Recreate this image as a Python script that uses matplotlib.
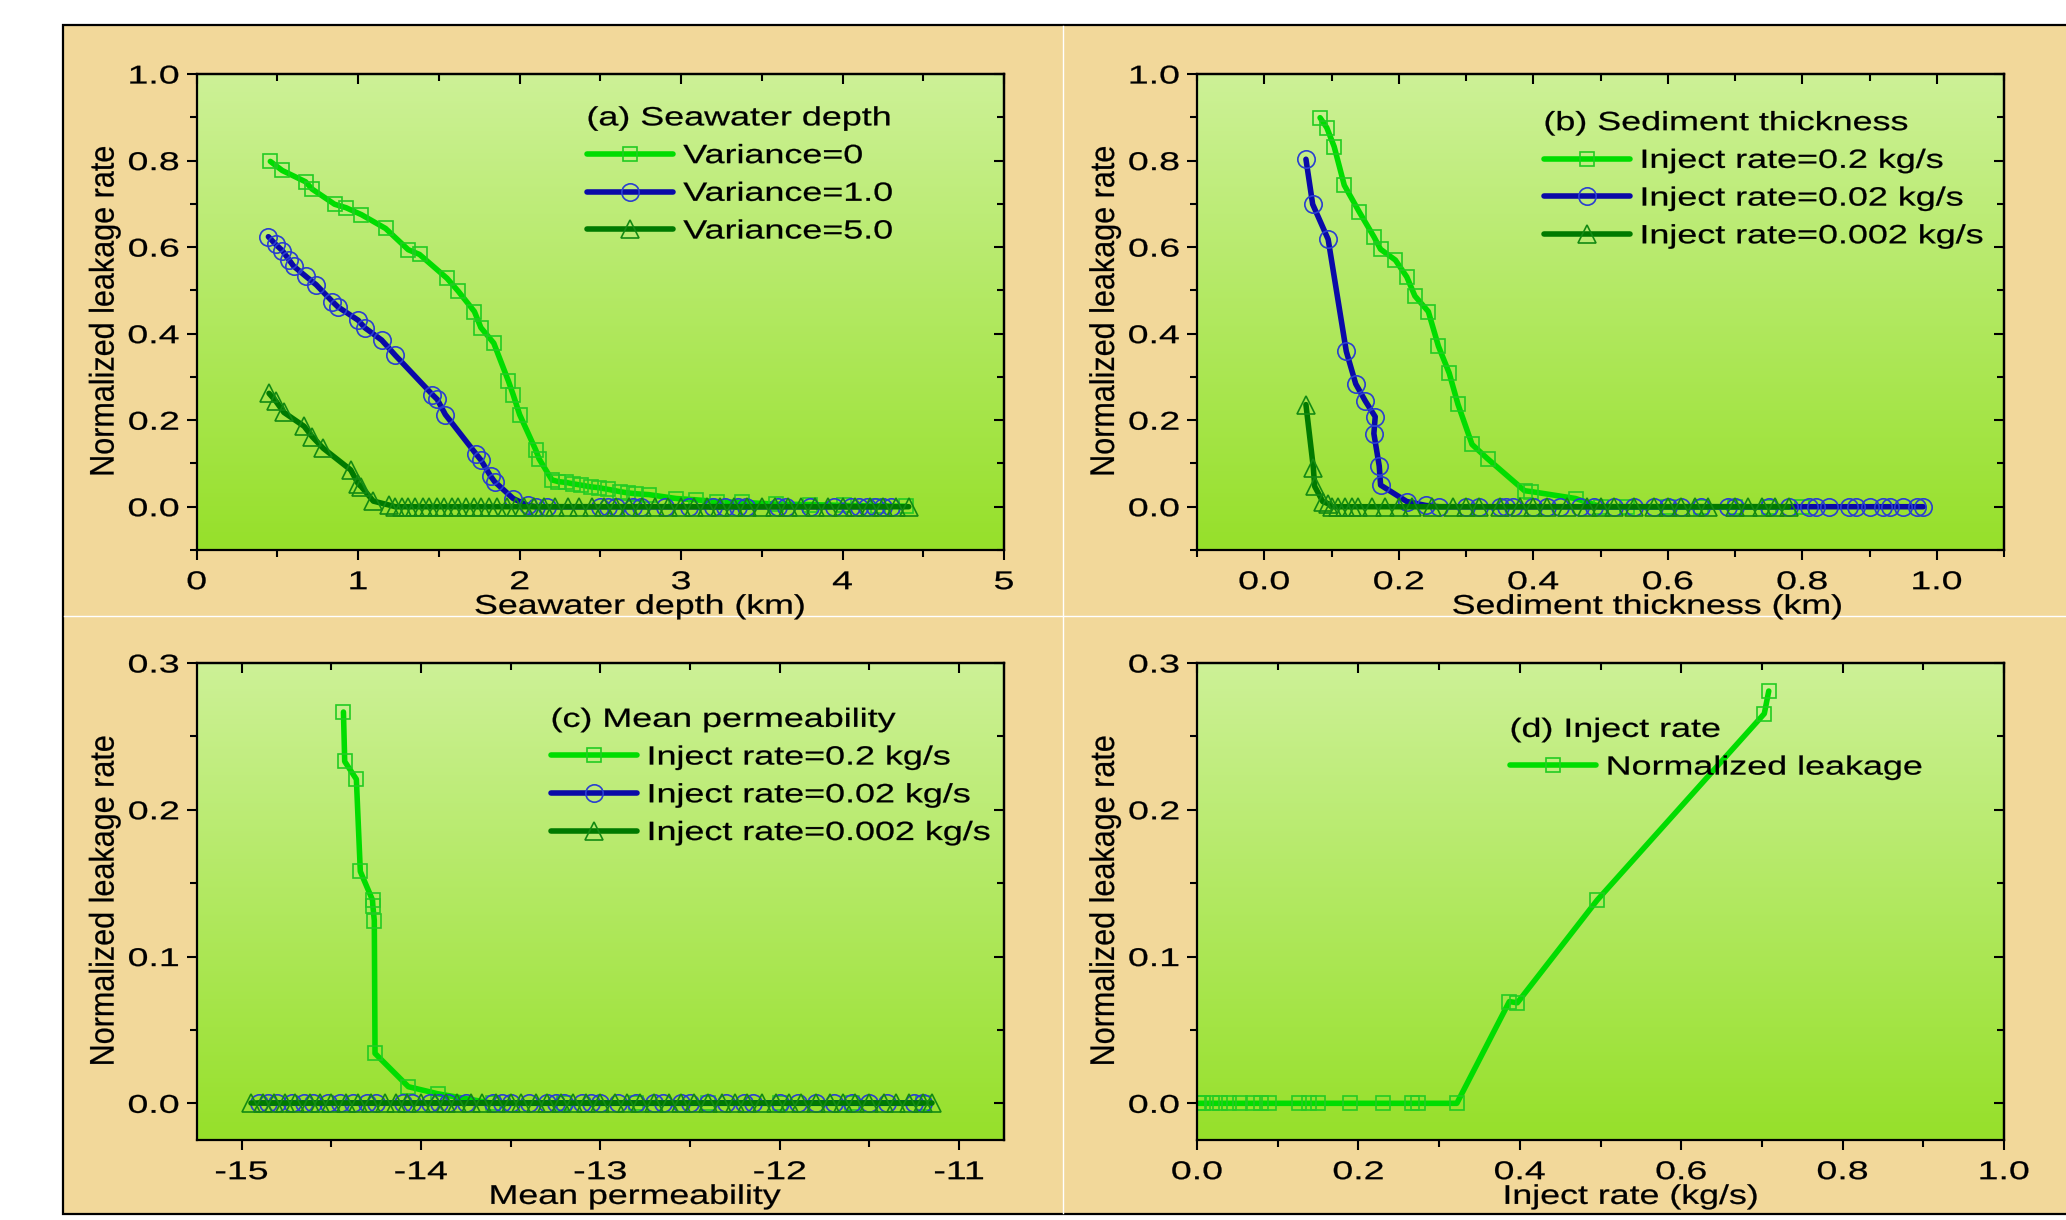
import numpy as np
import matplotlib
matplotlib.use("Agg")
import matplotlib.pyplot as plt
from matplotlib.patheffects import AbstractPathEffect
from matplotlib.transforms import Affine2D
from matplotlib.colors import LinearSegmentedColormap
from matplotlib.patches import Rectangle
from matplotlib.lines import Line2D
from matplotlib.ticker import MultipleLocator, FixedLocator, FormatStrFormatter

plt.rcParams['font.family'] = ['Liberation Sans', 'DejaVu Sans']
plt.rcParams['axes.unicode_minus'] = False

# ---------------- data ----------------
# (a) Seawater depth
a_v0_x = [0.456, 0.53, 0.674, 0.715, 0.854, 0.925, 1.02, 1.17, 1.31, 1.38, 1.55, 1.62, 1.72, 1.76,
          1.84, 1.93, 1.96, 2.0, 2.1, 2.12, 2.2, 2.24, 2.29, 2.33, 2.38, 2.44, 2.49, 2.55, 2.62, 2.67,
          2.72, 2.8, 2.97, 3.09, 3.22, 3.38, 3.59, 3.8, 4.01, 4.22, 4.39]
a_v0_y = [0.798, 0.777, 0.751, 0.734, 0.699, 0.691, 0.675, 0.643, 0.594, 0.583, 0.528, 0.498, 0.451, 0.414,
          0.378, 0.291, 0.259, 0.213, 0.131, 0.111, 0.062, 0.058, 0.056, 0.053, 0.05, 0.046, 0.044, 0.040, 0.035, 0.032,
          0.030, 0.028, 0.019, 0.016, 0.012, 0.010, 0.006, 0.005, 0.003, 0.002, 0.001]
a_v1_x = [0.444, 0.49, 0.53, 0.573, 0.6, 0.674, 0.74, 0.841, 0.874, 1.0, 1.04, 1.146, 1.23, 1.46, 1.49,
          1.54, 1.73, 1.76, 1.82, 1.845, 1.96, 2.05, 2.1, 2.17, 2.5, 2.55, 2.6, 2.7, 2.75, 2.9, 3.05, 3.2,
          3.27, 3.35, 3.4, 3.6, 3.65, 3.8, 3.95, 4.05, 4.1, 4.15, 4.2, 4.25, 4.3]
a_v1_y = [0.624, 0.606, 0.592, 0.57, 0.556, 0.533, 0.513, 0.474, 0.462, 0.431, 0.414, 0.385, 0.35, 0.259, 0.248,
          0.213, 0.122, 0.108, 0.071, 0.058, 0.019, 0.003, 0.0, 0.0, 0.0, 0.0, 0.0, 0.0, 0.0, 0.0, 0.0, 0.0,
          0.0, 0.0, 0.0, 0.0, 0.0, 0.0, 0.0, 0.0, 0.0, 0.0, 0.0, 0.0, 0.0]
a_v5_x = [0.448, 0.49, 0.54, 0.665, 0.715, 0.784, 0.954, 1.0, 1.02, 1.094, 1.19,
          1.23, 1.27, 1.31, 1.35, 1.40, 1.44, 1.49, 1.53, 1.58, 1.62, 1.67, 1.72, 1.76, 1.81, 1.86, 1.92,
          1.98, 2.03, 2.09, 2.15, 2.22, 2.3, 2.37, 2.45, 2.52, 2.6, 2.68, 2.76, 2.84, 2.92, 3.0, 3.08,
          3.16, 3.24, 3.33, 3.41, 3.5, 3.58, 3.66, 3.74, 3.83, 3.91, 4.0, 4.08, 4.17, 4.25, 4.33, 4.41]
a_v5_y = [0.262, 0.244, 0.218, 0.186, 0.162, 0.135, 0.085, 0.053, 0.046, 0.013, 0.004,
          0.0, 0.0, 0.0, 0.0, 0.0, 0.0, 0.0, 0.0, 0.0, 0.0, 0.0, 0.0, 0.0, 0.0, 0.0, 0.0,
          0.0, 0.0, 0.0, 0.0, 0.0, 0.0, 0.0, 0.0, 0.0, 0.0, 0.0, 0.0, 0.0, 0.0, 0.0, 0.0,
          0.0, 0.0, 0.0, 0.0, 0.0, 0.0, 0.0, 0.0, 0.0, 0.0, 0.0, 0.0, 0.0, 0.0, 0.0, 0.0]

# (b) Sediment thickness
b_r1_x = [0.083, 0.093, 0.104, 0.119, 0.141, 0.163, 0.173, 0.195, 0.212, 0.224, 0.244, 0.259, 0.275,
          0.288, 0.309, 0.332, 0.387, 0.397, 0.463, 0.5, 0.54, 0.6, 0.65, 0.7, 0.75, 0.8]
b_r1_y = [0.899, 0.876, 0.832, 0.743, 0.682, 0.624, 0.595, 0.57, 0.531, 0.487, 0.451, 0.371, 0.309,
          0.237, 0.144, 0.111, 0.037, 0.035, 0.019, 0.0, 0.0, 0.0, 0.0, 0.0, 0.0, 0.0]
b_r2_x = [0.062, 0.072, 0.095, 0.122, 0.136, 0.150, 0.165, 0.163, 0.171, 0.173, 0.212, 0.24, 0.26,
          0.30, 0.32, 0.35, 0.36, 0.37, 0.40, 0.42, 0.44, 0.47, 0.49, 0.52, 0.55, 0.58, 0.60, 0.62,
          0.65, 0.69, 0.70, 0.75, 0.78, 0.81, 0.82, 0.84, 0.87, 0.88, 0.90, 0.92, 0.93, 0.95, 0.97, 0.98]
b_r2_y = [0.803, 0.699, 0.618, 0.359, 0.284, 0.245, 0.208, 0.169, 0.094, 0.050, 0.012, 0.003, 0.0,
          0.0, 0.0, 0.0, 0.0, 0.0, 0.0, 0.0, 0.0, 0.0, 0.0, 0.0, 0.0, 0.0, 0.0, 0.0,
          0.0, 0.0, 0.0, 0.0, 0.0, 0.0, 0.0, 0.0, 0.0, 0.0, 0.0, 0.0, 0.0, 0.0, 0.0, 0.0]
b_r3_x = [0.062, 0.073, 0.075, 0.087, 0.095, 0.10, 0.11, 0.12, 0.13, 0.14, 0.16, 0.18, 0.20, 0.22,
          0.25, 0.28, 0.30, 0.32, 0.35, 0.38, 0.40, 0.42, 0.45, 0.48, 0.50, 0.52, 0.55, 0.58, 0.60,
          0.62, 0.64, 0.66, 0.70, 0.72, 0.74, 0.76, 0.78]
b_r3_y = [0.236, 0.090, 0.047, 0.012, 0.007, 0.0, 0.0, 0.0, 0.0, 0.0, 0.0, 0.0, 0.0, 0.0,
          0.0, 0.0, 0.0, 0.0, 0.0, 0.0, 0.0, 0.0, 0.0, 0.0, 0.0, 0.0, 0.0, 0.0, 0.0,
          0.0, 0.0, 0.0, 0.0, 0.0, 0.0, 0.0, 0.0]

# (c) Mean permeability
c_r1_x = [-14.432, -14.425, -14.36, -14.338, -14.27, -14.268, -14.26, -14.256, -14.07, -13.906,
          -13.6, -13.2, -12.8, -12.4, -12.0, -11.6, -11.2]
c_r1_y = [0.2666, 0.2329, 0.2208, 0.158, 0.1385, 0.1345, 0.1245, 0.034, 0.0113, 0.0065,
          0.0, 0.0, 0.0, 0.0, 0.0, 0.0, 0.0]
c_r2_x = [-14.9, -14.85, -14.8, -14.72, -14.65, -14.6, -14.52, -14.45, -14.38, -14.3, -14.25, -14.1,
          -14.05, -13.95, -13.9, -13.85, -13.75, -13.6, -13.55, -13.5, -13.4, -13.3, -13.25, -13.2,
          -13.1, -13.05, -13.0, -12.9, -12.8, -12.7, -12.65, -12.55, -12.5, -12.4, -12.3, -12.2,
          -12.15, -12.0, -11.9, -11.8, -11.7, -11.6, -11.5, -11.4, -11.25, -11.2]
c_r2_y = [0.0] * 46
c_r3_x = [-14.95, -14.88, -14.82, -14.76, -14.7, -14.62, -14.56, -14.5, -14.42, -14.35, -14.28, -14.2,
          -14.14, -14.08, -14.0, -13.92, -13.86, -13.8, -13.72, -13.66, -13.58, -13.5, -13.44, -13.36,
          -13.3, -13.22, -13.15, -13.08, -13.0, -12.92, -12.85, -12.78, -12.7, -12.62, -12.55, -12.48,
          -12.4, -12.32, -12.25, -12.18, -12.1, -12.02, -11.95, -11.88, -11.8, -11.72, -11.65, -11.58,
          -11.5, -11.42, -11.35, -11.28, -11.2, -11.15]
c_r3_y = [0.0] * 54

# (d) Inject rate
d_x = [0.002, 0.008, 0.018, 0.028, 0.04, 0.053, 0.069, 0.079, 0.089, 0.126, 0.139, 0.15, 0.19,
       0.231, 0.267, 0.274, 0.322, 0.387, 0.397, 0.496, 0.703, 0.7085]
d_y = [0.0, 0.0, 0.0, 0.0, 0.0, 0.0, 0.0, 0.0, 0.0, 0.0, 0.0, 0.0, 0.0,
       0.0, 0.0, 0.0, 0.0, 0.0693, 0.0685, 0.1385, 0.2655, 0.2809]

labels_a = ['Variance=0', 'Variance=1.0', 'Variance=5.0']
labels_bc = ['Inject rate=0.2 kg/s', 'Inject rate=0.02 kg/s', 'Inject rate=0.002 kg/s']
labels_d = ['Normalized leakage']
titles = ['(a) Seawater depth', '(b) Sediment thickness', '(c) Mean permeability', '(d) Inject rate']
xlabels = ['Seawater depth (km)', 'Sediment thickness (km)', 'Mean permeability', 'Inject rate (kg/s)']
ylabel = 'Normalized leakage rate'

# ---------------- styles ----------------
LINE_C = ['#00dd00', '#0a0aa8', '#007a00']
EDGE_C = ['#22cc22', '#2a3fd0', '#138a13']
MARKERS = ['s', 'o', '^']
MSIZE = [10.5, 12.5, 12.5]
BG = '#f2d89a'
G_TOP, G_BOT = '#cdf197', '#96e02a'


class HStretch(AbstractPathEffect):
    """Horizontally widen glyphs (the reference text is rendered wide)."""
    def __init__(self, sx, anchor='center', stroke=0.18):
        super().__init__()
        self.sx = sx
        self.anchor = anchor
        self.stroke = stroke

    def draw_path(self, renderer, gc, tpath, affine, rgbFace=None):
        ext = tpath.get_extents(affine)
        if self.anchor == 'left':
            x0 = ext.x0
        elif self.anchor == 'right':
            x0 = ext.x1
        else:
            x0 = 0.5 * (ext.x0 + ext.x1)
        t = affine + Affine2D().translate(-x0, 0).scale(self.sx, 1.0).translate(x0, 0)
        gc0 = renderer.new_gc()
        gc0.copy_properties(gc)
        if rgbFace is not None and self.stroke > 0:
            gc0.set_linewidth(self.stroke)
            gc0.set_foreground(rgbFace)
        renderer.draw_path(gc0, tpath, t, rgbFace)
        gc0.restore()


fig = plt.figure(figsize=(20.66, 12.20), dpi=100, facecolor='white')
W, H = 2066.0, 1220.0

# outer wheat panel with black frame
fig.add_artist(Rectangle((63 / W, 6 / H), 1.0, (1214 - 25) / H, transform=fig.transFigure,
                         facecolor=BG, edgecolor='black', lw=1.6, zorder=-10, clip_on=False))
fig.add_artist(Line2D([64 / W, 1.0], [1 - 616 / H, 1 - 616 / H], transform=fig.transFigure,
                      color='white', lw=1.0, zorder=-9))
fig.add_artist(Line2D([1063 / W, 1063 / W], [1 - 1213 / H, 1 - 26 / H], transform=fig.transFigure,
                      color='white', lw=1.0, zorder=-9))

grad_cmap = LinearSegmentedColormap.from_list('gbg', [G_TOP, G_BOT])

panels = [
    dict(rect=(196.7, 74, 1004, 550), xlim=(0, 5), xmaj=[0, 1, 2, 3, 4, 5], xmin=0.5, xfmt='%d',
         ylim=(-0.1, 1.0), ymaj=[0.0, 0.2, 0.4, 0.6, 0.8, 1.0], ymin=0.1,
         series=[(a_v0_x, a_v0_y), (a_v1_x, a_v1_y), (a_v5_x, a_v5_y)], labels=labels_a,
         leg=(0.4835, 0.932)),
    dict(rect=(1197, 74, 2004, 550), xlim=(-0.1, 1.1), xmaj=[0.0, 0.2, 0.4, 0.6, 0.8, 1.0], xmin=0.1,
         xfmt='%.1f', ylim=(-0.1, 1.0), ymaj=[0.0, 0.2, 0.4, 0.6, 0.8, 1.0], ymin=0.1,
         series=[(b_r1_x, b_r1_y), (b_r2_x, b_r2_y), (b_r3_x, b_r3_y)], labels=labels_bc,
         leg=(0.430, 0.922)),
    dict(rect=(196.7, 663, 1004, 1140), xlim=(-15.25, -10.75), xmaj=[-15, -14, -13, -12, -11],
         xmin=0.5, xfmt='%d', ylim=(-0.025, 0.3), ymaj=[0.0, 0.1, 0.2, 0.3], ymin=0.05,
         series=[(c_r1_x, c_r1_y), (c_r2_x, c_r2_y), (c_r3_x, c_r3_y)], labels=labels_bc,
         leg=(0.439, 0.906)),
    dict(rect=(1197, 663, 2004, 1140), xlim=(0.0, 1.0), xmaj=[0.0, 0.2, 0.4, 0.6, 0.8, 1.0], xmin=0.1,
         xfmt='%.1f', ylim=(-0.025, 0.3), ymaj=[0.0, 0.1, 0.2, 0.3], ymin=0.05,
         series=[(d_x, d_y)], labels=labels_d, leg=(0.388, 0.885)),
]

TICK_FS = 18.5
for i, p in enumerate(panels):
    l, t, r, b = p['rect']
    ax = fig.add_axes([l / W, 1 - b / H, (r - l) / W, (b - t) / H])
    ax.imshow(np.linspace(0, 1, 256).reshape(-1, 1), extent=[0, 1, 0, 1], transform=ax.transAxes,
              cmap=grad_cmap, aspect='auto', origin='upper', zorder=0, interpolation='bilinear')
    handles = []
    for k, (xs, ys) in enumerate(p['series']):
        ln, = ax.plot(xs, ys, color=LINE_C[k], lw=4.0, marker=MARKERS[k], ms=MSIZE[k],
                      mfc='none', mec=EDGE_C[k], mew=1.2, zorder=3 + k, label=p['labels'][k],
                      solid_capstyle='round', solid_joinstyle='round')
        handles.append(ln)
    ax.set_xlim(*p['xlim'])
    ax.set_ylim(*p['ylim'])
    ax.xaxis.set_major_locator(FixedLocator(p['xmaj']))
    ax.xaxis.set_minor_locator(MultipleLocator(p['xmin']))
    ax.yaxis.set_major_locator(FixedLocator(p['ymaj']))
    ax.yaxis.set_minor_locator(MultipleLocator(p['ymin']))
    ax.xaxis.set_major_formatter(FormatStrFormatter(p['xfmt']))
    ax.yaxis.set_major_formatter(FormatStrFormatter('%.1f'))
    for s in ax.spines.values():
        s.set_linewidth(1.6)
        s.set_zorder(10)
    ax.tick_params(which='both', direction='out', width=1.5, top=False, right=False,
                   labelsize=TICK_FS, colors='black')
    ax.tick_params(which='major', length=7.5)
    ax.tick_params(which='minor', length=5)
    ax.tick_params(axis='x', which='major', pad=7)
    ax.tick_params(axis='y', which='major', pad=5)

    secx = ax.secondary_xaxis('top')
    secx.xaxis.set_major_locator(FixedLocator(p['xmaj']))
    secx.xaxis.set_minor_locator(MultipleLocator(p['xmin']))
    secx.tick_params(which='both', direction='in', width=1.5, labeltop=False)
    secx.tick_params(which='major', length=7.5)
    secx.tick_params(which='minor', length=5)
    secx.spines['top'].set_linewidth(1.6)
    secy = ax.secondary_yaxis('right')
    secy.yaxis.set_major_locator(FixedLocator(p['ymaj']))
    secy.yaxis.set_minor_locator(MultipleLocator(p['ymin']))
    secy.tick_params(which='both', direction='in', width=1.5, labelright=False)
    secy.tick_params(which='major', length=7.5)
    secy.tick_params(which='minor', length=5)
    secy.spines['right'].set_linewidth(1.6)

    for tk in ax.xaxis.get_major_ticks():
        tk.label1.set_path_effects([HStretch(1.46, 'center')])
    for tk in ax.yaxis.get_major_ticks():
        tk.label1.set_path_effects([HStretch(1.46, 'right')])

    xl = ax.set_xlabel(xlabels[i], fontsize=19.5, va='top', ha='center')
    ax.xaxis.set_label_coords(0.5, -0.092)
    xl.set_path_effects([HStretch(1.32, 'left')])
    yl = ax.set_ylabel(ylabel, fontsize=22, va='center', ha='center')
    ax.yaxis.set_label_coords(-0.114, 0.5)
    yl.set_path_effects([HStretch(1.12, 'center')])

    leg = ax.legend(handles=handles, loc='upper left', bbox_to_anchor=p['leg'], frameon=False,
                    fontsize=19, title=titles[i], title_fontsize=19, alignment='left',
                    borderpad=0, borderaxespad=0, handlelength=3.25, handletextpad=0.4,
                    labelspacing=0.52, numpoints=1)
    leg.set_zorder(20)
    for txt in leg.get_texts():
        txt.set_path_effects([HStretch(1.36, 'left')])
    leg.get_title().set_path_effects([HStretch(1.36, 'left')])

fig.savefig('out.png', dpi=100, facecolor='white')
